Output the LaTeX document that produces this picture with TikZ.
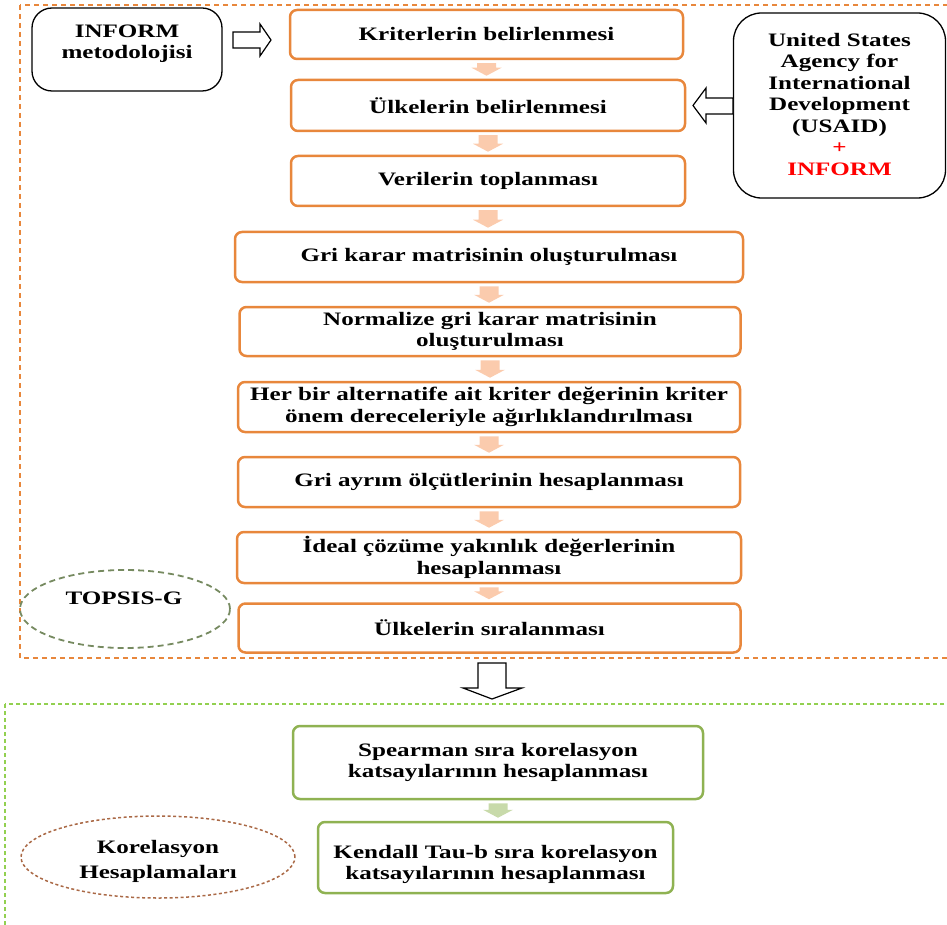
\documentclass[tikz,border=0pt]{standalone}
\usepackage{fontspec}
\setmainfont{Liberation Serif}[FakeStretch=1.32]
\usetikzlibrary{calc,shapes.geometric}
\definecolor{orB}{RGB}{232,135,60}
\definecolor{peach}{RGB}{251,203,173}
\definecolor{grB}{RGB}{143,178,82}
\definecolor{grA}{RGB}{200,218,170}
\definecolor{grD}{RGB}{146,208,80}
\definecolor{elG}{RGB}{118,138,96}
\definecolor{elB}{RGB}{170,105,70}
\definecolor{redT}{RGB}{255,0,0}
\tikzset{
  txt/.style={font=\bfseries\fontsize{19}{21.5}\selectfont, align=center, inner sep=0pt},
  obox/.style={txt, draw=orB, line width=2.5pt, rounded corners=7pt, fill=white},
  gbox/.style={txt, draw=grB, line width=2.5pt, rounded corners=7pt, fill=white},
  kbox/.style={draw=black, line width=1.3pt, rounded corners=20pt, fill=white, inner sep=0pt},
  hollow/.style={draw=black, line width=1.2pt, fill=white, line join=miter},
}
\newcommand\flowarrow[3]{%
  \fill[#3] let \p1=(#1.south), \p2=(#2.north) in
    (\x1-9.5pt,\y1-3pt) -- (\x1+9.5pt,\y1-3pt) -- (\x1+9.5pt,\y2+11pt) --
    (\x1+15pt,\y2+11pt) -- (\x1,\y2+3pt) -- (\x1-15pt,\y2+11pt) --
    (\x1-9.5pt,\y2+11pt) -- cycle;}
\begin{document}
\begin{tikzpicture}[x=1pt,y=-1pt]
\useasboundingbox (0,0) rectangle (947,925);
\clip (0,0) rectangle (947,925);
% group frames
\draw[orB, line width=1.6pt, dash pattern=on 5pt off 4pt] (20,5) rectangle (965,658);
\draw[grD, line width=1.4pt, dash pattern=on 4pt off 3pt] (5,704) rectangle (965,945);

% TOPSIS main chain
\node[obox, minimum width=393pt, minimum height=49pt] (b1) at (486.5,34.5) {Kriterlerin belirlenmesi};
\node[obox, minimum width=394pt, minimum height=51pt] (b2) at (488,105.5) {Ülkelerin belirlenmesi};
\node[obox, minimum width=394pt, minimum height=50pt] (b3) at (488,181) {Verilerin toplanması};
\node[obox, minimum width=508pt, minimum height=50pt] (b4) at (489,257) {Gri karar matrisinin oluşturulması};
\node[obox, minimum width=501pt, minimum height=49pt] (b5) at (490,331.5) {Normalize gri karar matrisinin\\oluşturulması};
\node[obox, minimum width=502pt, minimum height=50pt] (b6) at (489,407) {Her bir alternatife ait kriter değerinin kriter\\önem dereceleriyle ağırlıklandırılması};
\node[obox, minimum width=502pt, minimum height=50pt] (b7) at (489,482) {Gri ayrım ölçütlerinin hesaplanması};
\node[obox, minimum width=504pt, minimum height=51pt] (b8) at (489,557.5) {İdeal çözüme yakınlık değerlerinin\\hesaplanması};
\node[obox, minimum width=502pt, minimum height=49pt] (b9) at (489.5,628) {Ülkelerin sıralanması};

\flowarrow{b1}{b2}{peach}
\flowarrow{b2}{b3}{peach}
\flowarrow{b3}{b4}{peach}
\flowarrow{b4}{b5}{peach}
\flowarrow{b5}{b6}{peach}
\flowarrow{b6}{b7}{peach}
\flowarrow{b7}{b8}{peach}
\flowarrow{b8}{b9}{peach}

% side boxes
\node[kbox, minimum width=190pt, minimum height=83pt] (inform) at (127,49.5) {};
\node[txt, anchor=north] (informt) at ($(inform.north)+(0,17)$) {INFORM\\metodolojisi};
\node[kbox, minimum width=212pt, minimum height=185pt, rounded corners=28pt] (usaid) at (839.5,105.5) {};
\node[txt] (usaidt) at ($(usaid.center)+(0,-1)$) {United States\\Agency for\\International\\Development\\(USAID)\\\textcolor{redT}{+}\\\textcolor{redT}{INFORM}};

% hollow arrows
\draw[hollow] (233,32) -- (260,32) -- (260,24) -- (271,40) -- (260,56) -- (260,48) -- (233,48) -- cycle;
\draw[hollow] (733,98) -- (706,98) -- (706,88) -- (693,105.5) -- (706,123) -- (706,114) -- (733,114) -- cycle;
\draw[hollow] (478,663) -- (506,663) -- (506,688) -- (522,688) -- (492,699) -- (463,688) -- (478,688) -- cycle;

% ellipses
\node[ellipse, draw=elG, line width=1.8pt, dash pattern=on 6pt off 4pt, minimum width=210pt, minimum height=78pt] (topsis) at (125,609) {};
\node[txt] (topsist) at ($(topsis.center)+(-1,-11)$) {TOPSIS-G};

% correlation part
\node[gbox, minimum width=410pt, minimum height=73pt] (sp) at (498,762.5) {Spearman sıra korelasyon\\katsayılarının hesaplanması};
\node[gbox, minimum width=355pt, minimum height=71pt] (kt) at (495.5,857.5) {};
\node[txt] (ktt) at ($(kt.center)+(0,7)$) {Kendall Tau-b sıra korelasyon\\katsayılarının hesaplanması};
\flowarrow{sp}{kt}{grA}
\node[ellipse, draw=elB, line width=1.5pt, dash pattern=on 3pt off 2.5pt, minimum width=274pt, minimum height=82pt] (kor) at (158,857) {};
\node[txt, font=\bfseries\fontsize{19}{25}\selectfont] (kort) at ($(kor.center)+(0,4)$) {Korelasyon\\Hesaplamaları};
\end{tikzpicture}
\end{document}
